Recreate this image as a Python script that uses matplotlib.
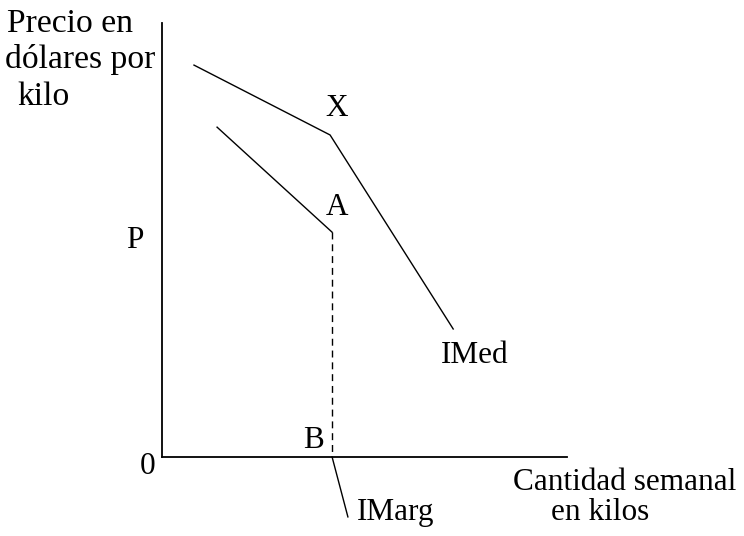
import matplotlib
matplotlib.use("Agg")
import matplotlib.pyplot as plt

plt.rcParams['font.family'] = ['Liberation Serif', 'DejaVu Serif']

# Data (conceptual units: quantity 0..10, price 0..10)
imed_x = [0.79, 4.15, 7.19]
imed_y = [9.03, 7.42, 2.95]
imarg_x = [1.36, 4.20]
imarg_y = [7.60, 5.18]
q_star = 4.20
p_star = 5.18
leader_x = [4.20, 4.59]
leader_y = [0.0, -1.38]
ylabel_lines = ['Precio en', 'dólares por', 'kilo']

W, H = 744, 536
fig = plt.figure(figsize=(W / 100, H / 100), dpi=100)
ax = fig.add_axes([162 / W, (H - 457) / H, 405 / W, 434 / H])
ax.set_xlim(0, 10)
ax.set_ylim(0, 10)
for s in ['top', 'right']:
    ax.spines[s].set_visible(False)
for s in ['left', 'bottom']:
    ax.spines[s].set_linewidth(1.3)
ax.set_xticks([])
ax.set_yticks([])

ax.plot(imed_x, imed_y, color='black', lw=1.0, clip_on=False)
ax.plot(imarg_x, imarg_y, color='black', lw=1.0, clip_on=False)
ax.plot([q_star, q_star], [p_star, 0], color='black', lw=1.0,
        dashes=(5, 3.5), clip_on=False)
ax.plot(leader_x, leader_y, color='black', lw=1.0, clip_on=False)

fs = 22.5
ax.text(4.32, 8.04, 'X', fontsize=fs, ha='center', va='center')
ax.text(4.32, 5.76, 'A', fontsize=fs, ha='center', va='center')
ax.text(3.73, 0.39, 'B', fontsize=fs, ha='center', va='center')
ax.text(-0.35, -0.23, '0', fontsize=fs, ha='center', va='center', clip_on=False)
ax.text(-0.67, 5.0, 'P', fontsize=fs, ha='center', va='center', clip_on=False)
ax.text(7.73, 2.35, 'IMed', fontsize=fs, ha='center', va='center', clip_on=False)
ax.text(4.81, -1.29, 'IMarg', fontsize=fs, ha='left', va='center', clip_on=False)

fig.text(625 / W, 1 - 482 / H, 'Cantidad semanal', fontsize=fs,
         ha='center', va='center')
fig.text(600 / W, 1 - 513 / H, 'en kilos', fontsize=fs,
         ha='center', va='center')

ylab_left = [7, 5, 17]
ylab_base = [32, 68, 105]
for txt, lx, by in zip(ylabel_lines, ylab_left, ylab_base):
    fig.text(lx / W, 1 - by / H, txt, fontsize=24.2, ha='left', va='baseline')

fig.savefig('out.png', dpi=100)
